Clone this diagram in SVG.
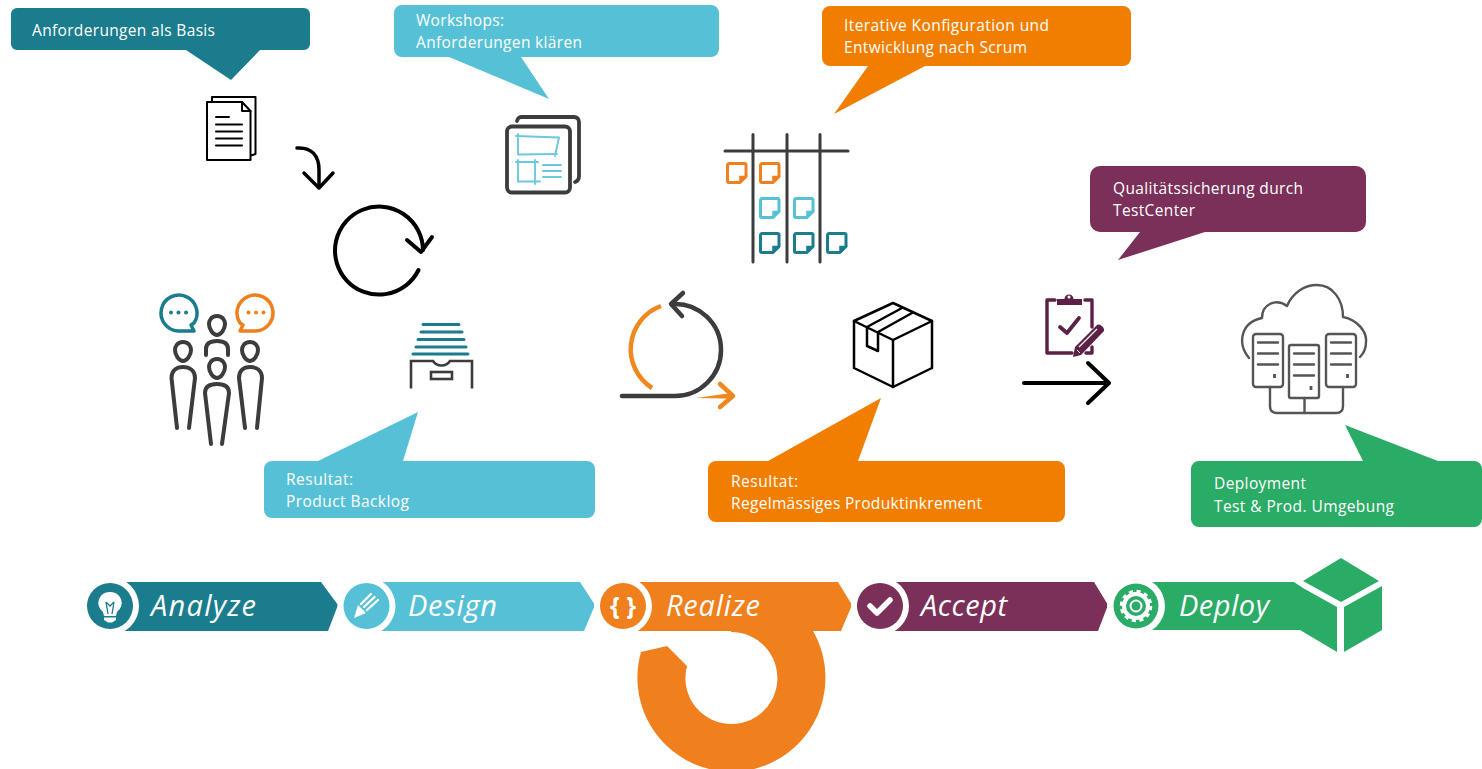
<svg xmlns="http://www.w3.org/2000/svg" width="1482" height="769" viewBox="0 0 1482 769">
<style>
text{font-family:"Open Sans","Liberation Sans",sans-serif}
.c{font-size:15.5px;fill:#fff}
.b{font-size:29px;font-style:italic;fill:#fff}
.ln{fill:none;stroke-linecap:round;stroke-linejoin:round}
.dk{stroke:#3c3c3c}
.k{stroke:#000}
.teal{fill:#1a7c8c}.sky{fill:#56c1d6}.org{fill:#f27e00}.plum{fill:#7b3059}.grn{fill:#2bac66}.band{fill:#f07f1e}
.w{fill:#fff}
</style>
<defs>
<g id="note"><path d="M3,1.500H18.500a1.500,1.500 0 0 1 1.500,1.500V14.500L14,20.500H3a1.500,1.500 0 0 1 -1.500,-1.500V3a1.500,1.500 0 0 1 1.500,-1.500Z" fill="none" stroke="currentColor" stroke-width="3" stroke-linejoin="round"/><path d="M20,14.500H14V20.500Z" fill="currentColor" stroke="currentColor" stroke-width="1.500"/></g>
</defs>

<g id="call-analyze"><path class="teal" d="M17,8H304a6,6 0 0 1 6,6V44a6,6 0 0 1 -6,6H260L231,80L186,50H17a6,6 0 0 1 -6,-6V14a6,6 0 0 1 6,-6Z"/><text class="c" x="32" y="36" textLength="183">Anforderungen als Basis</text></g>
<g id="call-workshops"><path class="sky" d="M402,5H711a8,8 0 0 1 8,8V49a8,8 0 0 1 -8,8H521L549,99L449,57H402a8,8 0 0 1 -8,-8V13a8,8 0 0 1 8,-8Z"/><text class="c" x="416" y="26" textLength="88">Workshops:</text><text class="c" x="416" y="48" textLength="166">Anforderungen klären</text></g>
<g id="call-scrum"><path class="org" d="M830,6H1123a8,8 0 0 1 8,8V58a8,8 0 0 1 -8,8H925L834,114L868,66H830a8,8 0 0 1 -8,-8V14a8,8 0 0 1 8,-8Z"/><text class="c" x="844" y="31" textLength="205">Iterative Konfiguration und</text><text class="c" x="844" y="53" textLength="183">Entwicklung nach Scrum</text></g>
<g id="call-test"><path class="plum" d="M1100,166H1356a10,10 0 0 1 10,10V222a10,10 0 0 1 -10,10H1205L1118,260L1140,232H1100a10,10 0 0 1 -10,-10V176a10,10 0 0 1 10,-10Z"/><text class="c" x="1113" y="194" textLength="190">Qualitätssicherung durch</text><text class="c" x="1113" y="216" textLength="82">TestCenter</text></g>
<g id="call-backlog"><path class="sky" d="M272,461H318L418,412L403,461H587a8,8 0 0 1 8,8V510a8,8 0 0 1 -8,8H272a8,8 0 0 1 -8,-8V469a8,8 0 0 1 8,-8Z"/><text class="c" x="286" y="485" textLength="67">Resultat:</text><text class="c" x="286" y="507" textLength="123">Product Backlog</text></g>
<g id="call-increment"><path class="org" d="M716,461H768L881,398L858,461H1057a8,8 0 0 1 8,8V514a8,8 0 0 1 -8,8H716a8,8 0 0 1 -8,-8V469a8,8 0 0 1 8,-8Z"/><text class="c" x="731" y="487" textLength="67">Resultat:</text><text class="c" x="731" y="509" textLength="251">Regelmässiges Produktinkrement</text></g>
<g id="call-deploy"><path class="grn" d="M1199,461H1363L1345,425L1438,461H1474a8,8 0 0 1 8,8V519a8,8 0 0 1 -8,8H1199a8,8 0 0 1 -8,-8V469a8,8 0 0 1 8,-8Z"/><text class="c" x="1214" y="489" textLength="92">Deployment</text><text class="c" x="1214" y="512" textLength="180">Test &amp; Prod. Umgebung</text></g>

<g id="icon-docs" class="ln k" stroke-width="2"><path d="M212,101V97H255.500V154L251,155.500"/><path d="M207,102H242L250.500,111V160H207Z"/><path d="M242,102V111H250.500"/><path d="M216,117H229M216,124.500H242M216,131.500H242M216,138.500H242M216,145.500H242" stroke-width="2"/></g>
<g id="arrow-curved" class="ln k" stroke-width="3.500"><path d="M297,148C312,147 319,156 319,170V187"/><path d="M304,173L319,188L333,173"/></g>
<g id="icon-cycle" class="ln k" stroke-width="4"><path d="M418.500,270A44,44 0 1 1 423,250"/><path d="M407,240L421,252L432,237"/></g>
<g id="icon-people">
<g class="ln" stroke="#1a7c8c" stroke-width="3.500"><path d="M194,323A18,18 0 1 0 178,331H194L191,325Z"/></g>
<g class="ln" stroke="#f07f1e" stroke-width="3.500"><path d="M240,323A18,18 0 1 1 256,331H240L243,325Z"/></g>
<g fill="#1a7c8c"><circle cx="171" cy="312.500" r="2"/><circle cx="178.500" cy="312.500" r="2"/><circle cx="186" cy="312.500" r="2"/></g>
<g fill="#f07f1e"><circle cx="248.500" cy="312.500" r="2"/><circle cx="256" cy="312.500" r="2"/><circle cx="263.500" cy="312.500" r="2"/></g>
<g class="ln dk" stroke-width="4">
<path d="M183,342C189,342 191,347 191,350C191,355 187,361 183,361C179,361 175,355 175,350C175,347 177,342 183,342Z"/>
<path d="M177,428L171.500,378C171.500,370 177,367 183,367C189,367 195,370 195,378L189,428"/>
<path d="M250,342C256,342 258,347 258,350C258,355 254,361 250,361C246,361 242,355 242,350C242,347 244,342 250,342Z"/>
<path d="M245,428L239,378C239,370 244,367 250,367C256,367 262,370 262,378L257,428"/>
<path d="M217,316C223,316 225,321 225,324C225,329 221,335 217,335C213,335 209,329 209,324C209,321 211,316 217,316Z"/>
<path d="M206,355V349C206,343 211,341 217,341C223,341 228,343 228,349V355"/>
<path d="M217,359C223,359 225,364 225,367C225,372 221,378 217,378C213,378 209,372 209,367C209,364 211,359 217,359Z"/>
<path d="M211,444L205,393C205,386 211,384 217,384C223,384 229,386 229,393L222,444"/>
</g></g>
<g id="icon-drawer"><g stroke="#1a7c8c" stroke-width="3" stroke-linecap="round"><path d="M423,324.500H459M421,332H462M418,339.500H464M416,347H466M413,354H468"/></g><g fill="none" class="dk" stroke-width="2.600"><path d="M411,388.500V361H433C437,367 446,367 450,361H472V388.500"/><rect x="431" y="372" width="21" height="7"/></g></g>
<g id="icon-workshop"><g class="ln dk" stroke-width="3.800"><rect x="507" y="126.500" width="63" height="66" rx="5"/><path d="M517,121C518,118 519,117 522,117H574C577,117 579,119 579,122V176C579,179 578,181 575,182"/></g><g class="ln" stroke="#6cc9dd" stroke-width="1.900"><path d="M516,136L559,137.500L555,156M518,134V154.500L557,154"/><path d="M516,162H538M518,160V181.500H540M535,160V184M543,165H561M543,171H561M543,177H561"/></g></g>
<g id="icon-board"><path class="ln dk" stroke-width="3" d="M725,151H848M753,134.500V262M787,134.500V262M820,134.500V262"/>
<use href="#note" x="726" y="162" style="color:#f07f1e"/><use href="#note" x="759" y="162" style="color:#f07f1e"/>
<use href="#note" x="759" y="197" style="color:#56c1d6"/><use href="#note" x="793" y="197" style="color:#56c1d6"/>
<use href="#note" x="759" y="232" style="color:#1a7c8c"/><use href="#note" x="793" y="232" style="color:#1a7c8c"/><use href="#note" x="826" y="232" style="color:#1a7c8c"/></g>
<g id="icon-loop"><path fill="none" stroke="#f0881e" stroke-width="4.500" d="M661,306A46,46 0 0 0 652,388"/><path d="M696,398L724,394H732V398.500H724Z" fill="#f0881e"/><path class="ln" stroke="#f0881e" stroke-width="4.500" d="M720,384L733,396L720,407"/><g class="ln dk" stroke-width="4.500"><path d="M622,396H675A46,46 0 0 0 721,350A46,46 0 0 0 672,304"/><path d="M683,293L671,304L682,316"/></g></g>
<g id="icon-box" class="ln k" stroke-width="2.500"><path d="M893,303L932,321V368L893,387L854,368V321Z"/><path d="M854,321L893,340L932,321M893,340V387M902,308L867,327V346L878,351V332L912,313"/></g>
<g id="icon-clipboard"><g class="ln" stroke="#5c1f45" stroke-width="3.400"><path d="M1055,300H1047V353H1072M1085,300H1092V327M1086,353H1092V347"/><path d="M1060,327L1067,333L1079,318" stroke-width="3.800"/></g><path fill="#5c1f45" d="M1057,305V299H1064.500A4.500,4.500 0 0 1 1073.500,299H1082V305Z"/><circle cx="1069" cy="297" r="1.500" fill="#fff"/><path fill="#5c1f45" d="M1073,357L1075,347L1097,325C1100,323 1105,328 1104,331L1081,355Z"/><path d="M1079,347L1097,329" stroke="#fff" stroke-width="1.200"/><path d="M1077,350L1080,353" stroke="#fff" stroke-width="1"/></g>
<g id="arrow-long" class="ln k" stroke-width="4"><path d="M1024,383H1109M1088,363L1109,383L1088,403"/></g>
<g id="icon-cloud" class="ln" stroke="#555" stroke-width="2.400"><path d="M1249,358C1238,345 1239,323 1262,318C1262,304 1276,298 1287,306C1293,292 1305,285 1317,285C1333,285 1343,300 1343,317C1358,320 1367,332 1366,342C1366,348 1363,354 1360,357"/><g fill="#fff"><rect x="1253" y="334" width="30" height="53" rx="3"/><rect x="1326" y="334" width="30" height="53" rx="3"/><rect x="1289" y="345" width="30" height="53" rx="2"/></g><path d="M1258,342.500H1278M1258,353.500H1278M1258,364.500H1278M1331,342.500H1351M1331,353.500H1351M1331,364.500H1351M1294,353.500H1314M1294,364.500H1314M1294,375.500H1314"/><path d="M1274.500,374V378M1347.500,374V378M1311,386V390" stroke-width="2.800" stroke-linecap="butt"/><path d="M1270,387V406Q1270,413 1277,413H1336Q1343,413 1343,406V387M1304.500,398V413"/></g>

<g id="step-realize-swirl"><path class="band" d="M813,625V631A94,94 0 1 1 641,652L667,646L687,666A46,46 0 1 0 731,632V625Z"/></g>
<g id="step-analyze"><path class="teal" d="M120,582H321L338,605L328,631H120Z"/><circle class="w" cx="110" cy="606" r="29"/><circle class="teal" cx="110" cy="606" r="23"/><path class="w" d="M110,592A11,11 0 0 1 117,612L116,616H104L103,612A11,11 0 0 1 110,592Z"/><path d="M106,602L108,614M114,602L112,614M106,602L110,606L114,602" fill="none" stroke="#1a7c8c" stroke-width="1.300"/><path class="w" d="M104,617.500H116V620L112,622.500H108L104,620Z"/><text class="b" x="151" y="616" textLength="105">Analyze</text></g>
<g id="step-design"><path class="sky" d="M376,582H580L595,605L584,631H376Z"/><circle class="w" cx="366.500" cy="606" r="29"/><circle class="sky" cx="366.500" cy="606" r="23"/><path class="w" d="M354,618L358,605L366,613Z"/><path d="M361,604L371,594M364,607L374.500,597M367,610L378,600" stroke="#fff" stroke-width="2.300" stroke-linecap="round"/><text class="b" x="408" y="616" textLength="89">Design</text></g>
<g id="step-realize"><path class="band" d="M633,582H838L852,605L841,631H633Z"/><circle class="w" cx="623" cy="606" r="29"/><circle class="band" cx="623" cy="606" r="23"/><text x="623" y="615" text-anchor="middle" font-size="25" font-weight="700" fill="#fff">{ }</text><text class="b" x="666" y="616" textLength="94">Realize</text></g>
<g id="step-accept"><path class="plum" d="M890,582H1094L1108,605L1098,631H890Z"/><circle class="w" cx="880" cy="606" r="29"/><circle class="plum" cx="880" cy="606" r="23"/><path class="ln" stroke="#fff" stroke-width="5.500" d="M870,606L877,613L890,600"/><text class="b" x="921" y="616" textLength="86">Accept</text></g>
<g id="step-deploy"><path class="grn" d="M1146,582H1294L1303,588L1337,607V652L1300,630H1146Z"/><path class="grn" d="M1341,558L1379,581L1341,602L1303,581Z"/><path class="grn" d="M1382,586V630L1344,652V607Z"/><circle class="w" cx="1136" cy="606" r="29"/><circle class="grn" cx="1136" cy="606" r="22.500"/><circle cx="1136" cy="606" r="12" fill="none" stroke="#fff" stroke-width="4"/><circle cx="1136" cy="606" r="14.500" fill="none" stroke="#fff" stroke-width="3.500" stroke-dasharray="4 3.600"/><circle cx="1136" cy="606" r="5.500" fill="none" stroke="#fff" stroke-width="2"/><text class="b" x="1179" y="616" textLength="90">Deploy</text></g>
</svg>
